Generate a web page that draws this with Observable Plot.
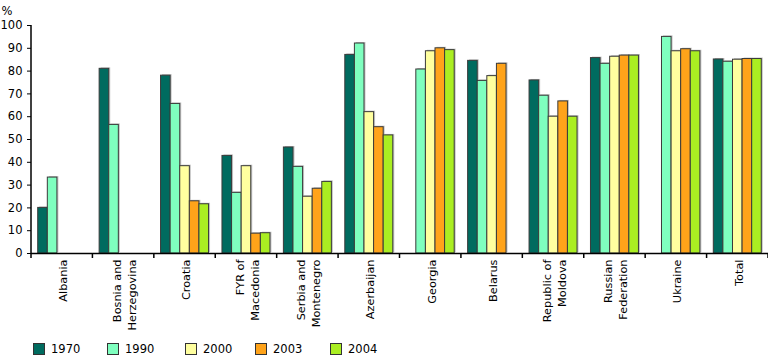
<!DOCTYPE html>
<html>
<head>
<meta charset="utf-8">
<script src="https://cdn.jsdelivr.net/npm/d3@7"></script>
<script src="https://cdn.jsdelivr.net/npm/@observablehq/plot@0.6"></script>
<style>
  html, body { margin: 0; padding: 0; background: #fff; }
  body { width: 768px; height: 357px; overflow: hidden; font-family: "DejaVu Sans", Verdana, sans-serif; }
  #legend { display: flex; height: 22px; align-items: center; padding-left: 33px; margin-top: 3px; font-size: 11px; color: #000; }
  .item { display: flex; align-items: center; }
  .sw { width: 12px; height: 12px; box-sizing: border-box; border: 1px solid #333; margin-right: 6px; }
</style>
</head>
<body>
<div id="chart"></div>
<div id="legend"></div>
<script>
const countries = ["Albania", "Bosnia and\nHerzegovina", "Croatia", "FYR of\nMacedonia", "Serbia and\nMontenegro", "Azerbaijan", "Georgia", "Belarus", "Republic of\nMoldova", "Russian\nFederation", "Ukraine", "Total"];
const years = ["1970", "1990", "2000", "2003", "2004"];
const colors = ["#006b5f", "#7fffbf", "#ffff9f", "#ffa31a", "#aaee22"];
const v1970 = [20, 81, 78, 42.8, 46.5, 87.1, null, 84.5, 75.9, 85.7, null, 85.1];
const v1990 = [33.3, 56.4, 65.6, 26.6, 38, 92.1, 80.7, 75.7, 69.2, 83.2, 95, 84.1];
const v2000 = [null, null, 38.3, 38.3, 24.9, 62, 88.7, 77.8, 60, 86.3, 88.7, 85];
const v2003 = [null, null, 22.9, 8.7, 28.4, 55.4, 90, 83.2, 66.7, 86.8, 89.6, 85.3];
const v2004 = [null, null, 21.6, 8.9, 31.4, 51.8, 89.2, null, 60, 86.8, 88.7, 85.3];
const yTicks = [0, 10, 20, 30, 40, 50, 60, 70, 80, 90, 100];
const legendWidths = [74, 78, 70, 75, 60];

const series = [v1970, v1990, v2000, v2003, v2004];
const data = [];
countries.forEach((c, i) => {
  years.forEach((y, j) => {
    const v = series[j][i];
    if (v != null) data.push({country: c, year: y, value: v});
  });
});

const chart = Plot.plot({
  width: 768,
  height: 335,
  marginLeft: 31,
  marginRight: 0,
  marginTop: 25,
  marginBottom: 82,
  style: {fontFamily: "DejaVu Sans, Verdana, sans-serif", fontSize: "11px", color: "#000", background: "#fff"},
  fx: {domain: countries, paddingInner: 0, paddingOuter: 0, round: false, label: null},
  x: {domain: years, paddingInner: 0, paddingOuter: 0.7, round: false, axis: null},
  y: {domain: [0, 100], label: null},
  color: {domain: years, range: colors},
  marks: [
    Plot.barY(data, {fx: "country", x: "year", y: "value", fill: "#c4c4c4", dx: 1.5, dy: -1}),
    Plot.barY(data, {fx: "country", x: "year", y: "value", fill: "year", stroke: "#3a3a3a", strokeWidth: 1}),
    Plot.axisY({ticks: yTicks, tickSize: 4, tickPadding: 5, tickFormat: d => d, label: null, fontSize: 11.5}),
    Plot.axisFx({anchor: "bottom", tickSize: 0, tickRotate: -90, tickPadding: 6, label: null, lineHeight: 1.33, fontSize: 11.3}),
    Plot.ruleY([0], {stroke: "#000", strokeWidth: 1.5}),
    Plot.text(["%"], {frameAnchor: "top-left", facet: "super", dx: -30, dy: -19, textAnchor: "start", fontSize: 11.5})
  ]
});
document.getElementById("chart").appendChild(chart);

// y axis line and boundary ticks between groups, from the fx and y scales
const fx = chart.scale("fx");
const yS = chart.scale("y");
const y0 = yS.apply(0);
const svg = d3.select(chart);
const bounds = fx.domain.map(d => fx.apply(d)).concat([fx.apply(fx.domain[fx.domain.length - 1]) + fx.bandwidth]);
const g = svg.append("g").attr("stroke", "#000").attr("stroke-width", 1.5);
g.selectAll("line.b").data(bounds).join("line").attr("class", "b")
  .attr("x1", d => d).attr("x2", d => d)
  .attr("y1", y0).attr("y2", y0 + 5);
g.append("line").attr("x1", bounds[0]).attr("x2", bounds[0])
  .attr("y1", yS.apply(0)).attr("y2", yS.apply(100));

const legend = d3.select("#legend");
years.forEach((y, i) => {
  const it = legend.append("div").attr("class", "item").style("width", legendWidths[i] + "px");
  it.append("div").attr("class", "sw").style("background", colors[i]);
  it.append("span").text(y).style("font-size", "11.5px");
});
</script>
</body>
</html>
